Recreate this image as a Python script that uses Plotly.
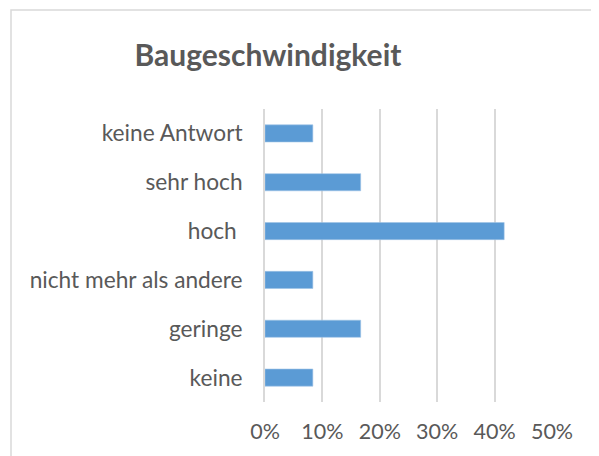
import plotly.graph_objects as go

# Antwortkategorien von oben nach unten, Anteile als Bruch
categories = ["keine Antwort", "sehr hoch", "hoch\u00a0", "nicht mehr als andere", "geringe", "keine"]
shares = [1 / 12, 2 / 12, 5 / 12, 1 / 12, 2 / 12, 1 / 12]
tick_values = [0, 0.1, 0.2, 0.3, 0.4, 0.5]
tick_labels = ["0%", "10%", "20%", "30%", "40%", "50%"]

text_color = "#595959"
grid_color = "#D9D9D9"
font_name = "Lato"

# die Seite hat 8px Rand im body, daher alles um 8px verschoben
off = 8

fig = go.Figure()
fig.add_trace(
    go.Bar(
        x=shares,
        y=categories,
        orientation="h",
        marker=dict(color="#5B9BD5", line=dict(color="#9DC3E6", width=0.6)),
        hoverinfo="x+y",
    )
)

fig.update_layout(
    width=599,
    height=456,
    margin=dict(l=265 - off, r=47 + off, t=109 - off, b=54 + off),
    paper_bgcolor="white",
    plot_bgcolor="white",
    showlegend=False,
    bargap=0.65,
    font=dict(family=font_name, color=text_color, size=21),
    title=dict(
        text="<b>Baugeschwindigkeit</b>",
        x=(268 - off) / 599,
        xanchor="center",
        xref="container",
        y=1 - (55 - off) / 456,
        yanchor="middle",
        yref="container",
        font=dict(family=font_name, size=30, color=text_color),
    ),
    xaxis=dict(
        range=[0, 0.5],
        tickvals=tick_values,
        ticktext=tick_labels,
        tickfont=dict(size=21.5),
        showgrid=True,
        gridcolor=grid_color,
        gridwidth=1.8,
        zeroline=False,
        showline=False,
        ticks="outside",
        ticklen=10,
        tickcolor="rgba(0,0,0,0)",
        fixedrange=True,
    ),
    yaxis=dict(
        autorange="reversed",
        tickfont=dict(size=22.7),
        showgrid=False,
        showline=True,
        linecolor=grid_color,
        linewidth=1.8,
        ticks="outside",
        ticklen=16,
        tickcolor="rgba(0,0,0,0)",
        fixedrange=True,
    ),
)

# heller Rahmen um den Diagrammbereich (rechts und unten abgeschnitten)
fig.add_shape(
    type="rect",
    xref="paper",
    yref="paper",
    x0=(11 - 265) / 287,
    x1=1.3,
    y0=-0.3,
    y1=(402 - 10) / 293,
    line=dict(color=grid_color, width=1.5),
    layer="below",
)

fig.write_html("out.html")
